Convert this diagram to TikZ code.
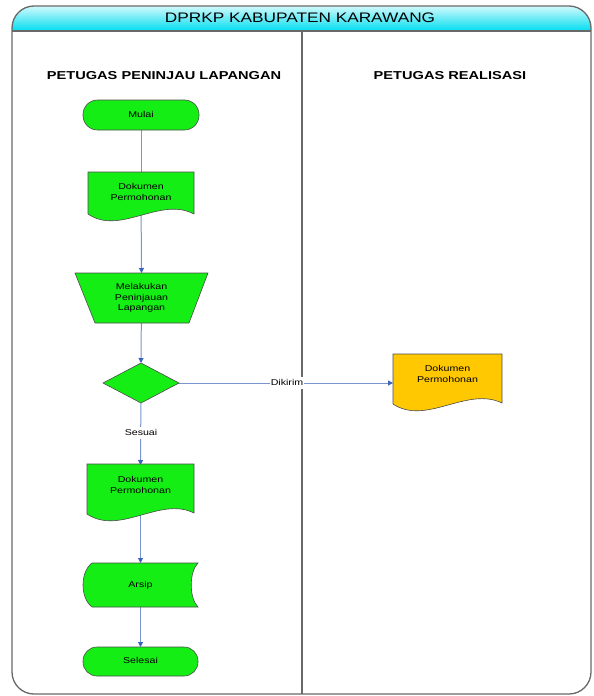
\documentclass[tikz,border=0pt]{standalone}
\usepackage{fontspec}
\setmainfont{Liberation Sans}
\usepackage{graphicx}
\usetikzlibrary{arrows.meta}
\pgfdeclarelayer{conn}
\pgfdeclarelayer{shp}
\pgfsetlayers{conn,shp,main}
\definecolor{flowgreen}{RGB}{20,238,20}
\definecolor{docyellow}{RGB}{255,200,0}
\definecolor{linkblue}{RGB}{120,150,205}
\definecolor{tipblue}{RGB}{60,100,190}
\definecolor{framegray}{RGB}{105,105,105}
\definecolor{headcyan}{RGB}{0,222,240}
\newcommand{\stxt}[1]{\scalebox{1.25}[1]{\fontsize{8.5}{10.5}\selectfont\begin{tabular}{@{}c@{}}#1\end{tabular}}}
\newcommand{\lanetxt}[1]{\scalebox{1.27}[1]{\fontsize{11.5}{13}\selectfont\bfseries #1}}
\tikzset{
  anchorbox/.style={draw=none, fill=none, inner sep=0pt, outer sep=0pt, minimum width=#1},
  shapeline/.style={draw=black!70, line width=0.6pt},
  link/.style={draw=linkblue, line width=1pt, -{Triangle[length=5pt,width=5pt,color=tipblue]}},
  plainlink/.style={draw=linkblue, line width=1pt},
  lbl/.style={fill=white, inner sep=1pt},
  framestyle/.style={draw=framegray, line width=1.3pt}
}
\begin{document}
\begin{tikzpicture}[x=1pt,y=-1pt]
\useasboundingbox (0,0) rectangle (594,696);
% frame
\begin{scope}
\clip[rounded corners=22] (12,300) -- (12,6) -- (591,6) -- (591,694) -- (12,694) -- cycle;
\shade[top color=headcyan!18!white, bottom color=headcyan] (12,6) rectangle (591,31);
\end{scope}
\draw[framestyle, rounded corners=22] (12,300) -- (12,6) -- (591,6) -- (591,694) -- (12,694) -- cycle;
\draw[framestyle] (12,31) -- (591,31);
\draw[framestyle] (302,31) -- (302,694);
\node (title) at (300,18) {\scalebox{1.25}[1]{\fontsize{13.8}{15}\selectfont DPRKP KABUPATEN KARAWANG}};
\node (lane1) at (164,76) {\lanetxt{PETUGAS PENINJAU LAPANGAN}};
\node (lane2) at (450,76) {\lanetxt{PETUGAS REALISASI}};

% invisible named nodes (bounds of shapes)
\node[anchorbox=116pt, minimum height=30pt] (mulai) at (141,115) {\stxt{Mulai}};
\node[anchorbox=106pt, minimum height=42pt] (doc1) at (141,193) {};
\node at (141,193) {\stxt{Dokumen\\Permohonan}};
\node[anchorbox=133pt, minimum height=50pt] (trap) at (141.5,298) {\stxt{Melakukan\\Peninjauan\\Lapangan}};
\node[anchorbox=76pt, minimum height=40pt] (dec) at (141,383) {};
\node[anchorbox=109pt, minimum height=42pt] (doc3) at (447.5,375) {};
\node at (447.5,375) {\stxt{Dokumen\\Permohonan}};
\node[anchorbox=107pt, minimum height=42pt] (doc2) at (140.5,486) {};
\node at (140.5,486) {\stxt{Dokumen\\Permohonan}};
\node[anchorbox=115pt, minimum height=44pt] (arsip) at (140.5,585) {\stxt{Arsip}};
\node[anchorbox=115pt, minimum height=29pt] (selesai) at (140.5,661.5) {\stxt{Selesai}};

% shapes
\begin{pgfonlayer}{shp}
\draw[shapeline, fill=flowgreen, rounded corners=14.5] (83,100) rectangle (199,130);
\draw[shapeline, fill=flowgreen] (88,172) -- (194,172) -- (194,214)
   .. controls (160,196) and (120,236) .. (88,214) -- cycle;
\draw[shapeline, fill=flowgreen] (75,273) -- (208,273) -- (189,323) -- (95,323) -- cycle;
\draw[shapeline, fill=flowgreen] (141,363) -- (179,383) -- (141,403) -- (103,383) -- cycle;
\draw[shapeline, fill=docyellow] (393,354) -- (502,354) -- (502,403)
   .. controls (467,386) and (426,426) .. (393,404) -- cycle;
\draw[shapeline, fill=flowgreen] (87,464) -- (194,464) -- (194,513)
   .. controls (160,496) and (120,536) .. (87,514) -- cycle;
\draw[shapeline, fill=flowgreen] (92,563) -- (198,563)
   .. controls (189,572) and (189,598) .. (198,607) -- (92,607)
   .. controls (80,598) and (80,572) .. (92,563) -- cycle;
\draw[shapeline, fill=flowgreen, rounded corners=14] (83,647) rectangle (198,676);
\end{pgfonlayer}

% connectors
\begin{pgfonlayer}{conn}
\draw[plainlink] (mulai.center) -- (doc1.center);
\draw[link] (doc1.center) -- (trap.north);
\draw[link] (trap.center) -- (dec.north);
\draw[link] (dec.center) -- (doc2.north);
\draw[link] (dec.center) -- (dec.center -| doc3.west);
\draw[link] (doc2.center) -- (arsip.north);
\draw[link] (arsip.center) -- (selesai.north);
\end{pgfonlayer}
\node[lbl] (lsesuai) at (141,433) {\stxt{Sesuai}};
\node[lbl] (ldikirim) at (287,383) {\stxt{Dikirim}};
\end{tikzpicture}
\end{document}
